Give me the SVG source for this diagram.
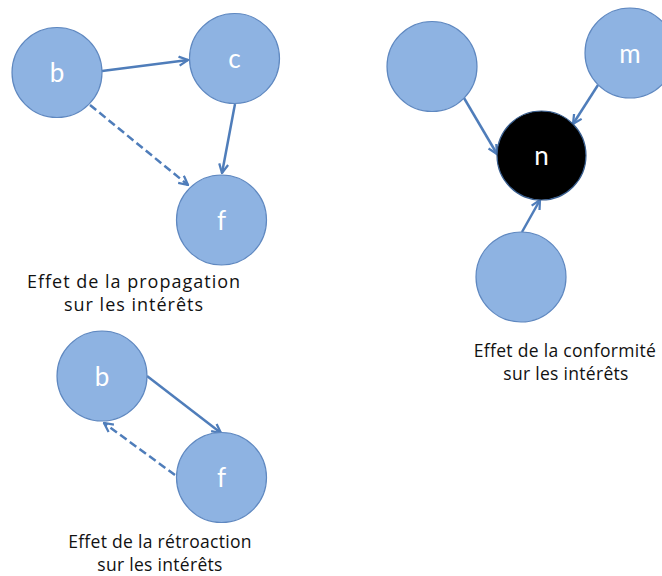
<svg xmlns="http://www.w3.org/2000/svg" width="662" height="576" viewBox="0 0 662 576">
<style>
.node{fill:#8EB3E2;stroke:#5F88C0;stroke-width:1.2}
.dark{fill:#000;stroke:#3A5F8F;stroke-width:1.2}
.lbl{font-family:Lato,"Open Sans",sans-serif;font-size:26px;fill:#fff;text-anchor:middle}
.cap{font-family:"Open Sans",Lato,sans-serif;font-size:18px;letter-spacing:1px;fill:#111;text-anchor:middle}
.cap2{font-family:"Open Sans",Lato,sans-serif;font-size:17.5px;letter-spacing:0.3px;fill:#111;text-anchor:middle}
.edge{stroke:#4F7DBA;stroke-width:2.5;fill:none;marker-end:url(#ah)}
.dash{stroke-dasharray:8,4}
</style>
<defs>
<marker id="ah" viewBox="0 0 10 10" refX="9" refY="5" markerWidth="4.5" markerHeight="4.5" orient="auto" markerUnits="strokeWidth">
<path d="M1,1 L9,5 L1,9" fill="none" stroke="#4F7DBA" stroke-width="2"/>
</marker>
</defs>
<g id="connectors">
<line class="edge" x1="102" y1="71" x2="188" y2="60"/>
<line class="edge" x1="235" y1="104" x2="222" y2="173"/>
<line class="edge dash" x1="90" y1="105" x2="188" y2="185"/>
<line class="edge" x1="464" y1="98" x2="497" y2="154"/>
<line class="edge" x1="598" y1="85" x2="573" y2="124"/>
<line class="edge" x1="522" y1="232" x2="540" y2="200"/>
<line class="edge" x1="147" y1="376" x2="221" y2="433"/>
<line class="edge dash" x1="175" y1="475" x2="104" y2="423"/>
</g>
<g id="b1"><circle class="node" cx="57" cy="72.5" r="45"/><text class="lbl" x="57" y="82">b</text></g>
<g id="c1"><circle class="node" cx="234.5" cy="58.5" r="45"/><text class="lbl" x="234.5" y="68">c</text></g>
<g id="f1"><circle class="node" cx="221.5" cy="220" r="45"/><text class="lbl" x="221.5" y="230">f</text></g>
<g id="u1"><circle class="node" cx="432" cy="66.5" r="45"/></g>
<g id="m"><circle class="node" cx="630" cy="53" r="45"/><text class="lbl" x="630" y="63">m</text></g>
<g id="n"><circle class="dark" cx="541.5" cy="155.5" r="44.5"/><text class="lbl" x="541.5" y="165">n</text></g>
<g id="u2"><circle class="node" cx="521" cy="277" r="45"/></g>
<g id="b2"><circle class="node" cx="102" cy="376" r="45"/><text class="lbl" x="102" y="386">b</text></g>
<g id="f2"><circle class="node" cx="221.5" cy="477.5" r="45"/><text class="lbl" x="221.5" y="487">f</text></g>
<g id="captions">
<text class="cap" x="134" y="288">Effet de la propagation</text>
<text class="cap" x="134" y="311">sur les intérêts</text>
<text class="cap2" x="160" y="548">Effet de la rétroaction</text>
<text class="cap2" x="160" y="571">sur les intérêts</text>
<text class="cap2" x="565" y="357">Effet de la conformité</text>
<text class="cap2" x="566" y="380">sur les intérêts</text>
</g>
</svg>
